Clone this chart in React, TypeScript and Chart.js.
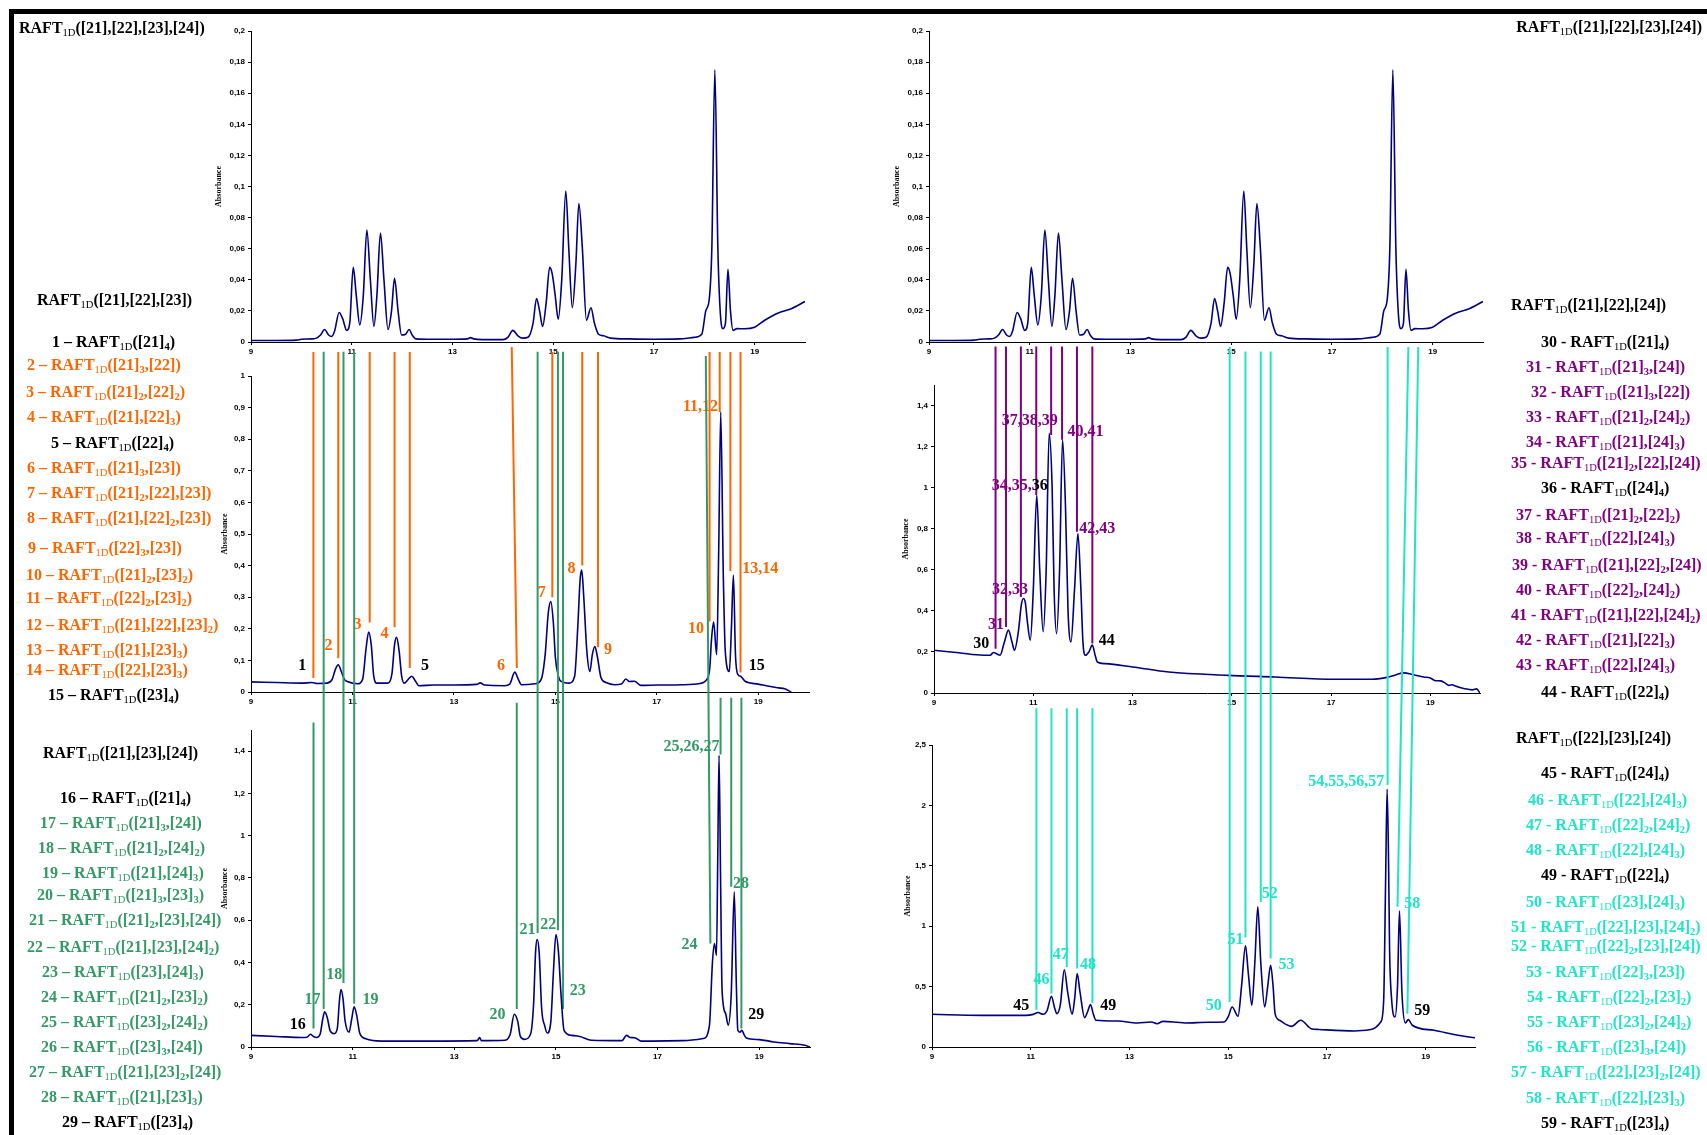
import React, { useEffect, useRef } from "react";
import { Chart, registerables } from "chart.js";

Chart.register(...registerables);

const PAGE_W = 1707;
const PAGE_H = 1135;
const SANS = '"Liberation Sans", Arial, sans-serif';
const SERIF = '"Liberation Serif", "Times New Roman", serif';
const NAVY = "#000080";
const COLORS: Record<string, string> = {
  K: "#000000",
  O: "#FF6600",
  G: "#339966",
  P: "#800080",
  C: "#1FE5C6",
};

// ---------------- axis ticks ----------------
const xTicks = [9, 11, 13, 15, 17, 19];
const topYTicks = [0, 0.02, 0.04, 0.06, 0.08, 0.1, 0.12, 0.14, 0.16, 0.18, 0.2];
const mlYTicks = [0, 0.1, 0.2, 0.3, 0.4, 0.5, 0.6, 0.7, 0.8, 0.9, 1];
const blYTicks = [0, 0.2, 0.4, 0.6, 0.8, 1, 1.2, 1.4];
const mrYTicks = [0, 0.2, 0.4, 0.6, 0.8, 1, 1.2, 1.4];
const brYTicks = [0, 0.5, 1, 1.5, 2, 2.5];

// ---------------- chromatogram: RAFT1D([21],[22],[23],[24]) ----------------
const topTime = [9, 9.5, 9.9, 10.0, 10.2, 10.3, 10.38, 10.46, 10.54, 10.6, 10.66, 10.75, 10.82, 10.9, 10.96, 11.03, 11.09, 11.16, 11.23, 11.3, 11.37, 11.44, 11.5, 11.57, 11.64, 11.72, 11.79, 11.85, 11.92, 11.99, 12.07, 12.14, 12.2, 12.28, 12.5, 13.0, 13.3, 13.36, 13.42, 13.6, 14.0, 14.1, 14.2, 14.3, 14.4, 14.5, 14.6, 14.67, 14.73, 14.79, 14.86, 14.93, 14.98, 15.04, 15.1, 15.17, 15.25, 15.31, 15.38, 15.45, 15.51, 15.58, 15.66, 15.75, 15.82, 15.9, 16.0, 16.14, 16.5, 17.0, 17.5, 17.8, 17.95, 18.03, 18.1, 18.15, 18.21, 18.27, 18.32, 18.37, 18.42, 18.47, 18.52, 18.57, 18.65, 18.8, 19.0, 19.2, 19.47, 19.7, 20.0];
const topAbs = [0.001, 0.001, 0.0012, 0.0018, 0.002, 0.0025, 0.0045, 0.008, 0.0045, 0.0035, 0.007, 0.019, 0.015, 0.0075, 0.012, 0.048, 0.03, 0.011, 0.03, 0.072, 0.04, 0.01, 0.03, 0.07, 0.04, 0.008, 0.02, 0.041, 0.02, 0.0045, 0.005, 0.008, 0.0045, 0.002, 0.0018, 0.0018, 0.002, 0.0028, 0.002, 0.0015, 0.0015, 0.003, 0.0075, 0.004, 0.0025, 0.003, 0.012, 0.028, 0.02, 0.01, 0.025, 0.048, 0.044, 0.03, 0.0146, 0.04, 0.097, 0.06, 0.022, 0.05, 0.089, 0.06, 0.014, 0.022, 0.012, 0.005, 0.004, 0.0025, 0.002, 0.0018, 0.002, 0.003, 0.005, 0.02, 0.028, 0.06, 0.175, 0.06, 0.018, 0.0086, 0.012, 0.0467, 0.02, 0.0075, 0.0086, 0.0085, 0.0095, 0.014, 0.0187, 0.021, 0.026];

// ---------------- chromatogram: RAFT1D([21],[22],[23]) ----------------
const mlTime = [9, 9.5, 10.0, 10.2, 10.3, 10.5, 10.6, 10.66, 10.72, 10.78, 10.84, 10.9, 11.1, 11.2, 11.27, 11.32, 11.37, 11.42, 11.48, 11.7, 11.78, 11.83, 11.87, 11.92, 11.97, 12.02, 12.1, 12.17, 12.24, 12.31, 12.6, 13.0, 13.45, 13.52, 13.6, 14.0, 14.1, 14.2, 14.27, 14.33, 14.6, 14.72, 14.8, 14.86, 14.91, 14.96, 15.0, 15.06, 15.1, 15.27, 15.38, 15.44, 15.49, 15.52, 15.56, 15.62, 15.68, 15.73, 15.78, 15.83, 15.9, 16.0, 16.17, 16.3, 16.39, 16.46, 16.56, 16.68, 17.0, 17.5, 17.85, 17.96, 18.04, 18.08, 18.12, 18.18, 18.22, 18.26, 18.31, 18.35, 18.43, 18.47, 18.51, 18.55, 18.6, 18.65, 18.74, 19.0, 19.21, 19.4, 19.52, 19.65];
const mlAbs = [0.032, 0.03, 0.028, 0.03, 0.027, 0.028, 0.04, 0.07, 0.086, 0.065, 0.04, 0.033, 0.026, 0.04, 0.14, 0.19, 0.15, 0.05, 0.028, 0.028, 0.06, 0.15, 0.173, 0.13, 0.05, 0.028, 0.04, 0.05, 0.035, 0.02, 0.022, 0.022, 0.024, 0.029, 0.022, 0.02, 0.025, 0.063, 0.04, 0.023, 0.026, 0.04, 0.12, 0.25, 0.286, 0.22, 0.11, 0.05, 0.035, 0.028, 0.05, 0.2, 0.36, 0.386, 0.3, 0.13, 0.065, 0.12, 0.144, 0.11, 0.045, 0.03, 0.023, 0.025, 0.041, 0.033, 0.034, 0.021, 0.022, 0.023, 0.027, 0.035, 0.07, 0.17, 0.221, 0.118, 0.45, 0.886, 0.376, 0.128, 0.065, 0.2, 0.37, 0.12, 0.055, 0.05, 0.034, 0.025, 0.018, 0.013, 0.01, 0.0];

// ---------------- chromatogram: RAFT1D([21],[23],[24]) ----------------
const blTime = [9, 9.5, 10.0, 10.1, 10.17, 10.23, 10.29, 10.36, 10.41, 10.45, 10.5, 10.56, 10.64, 10.7, 10.74, 10.77, 10.81, 10.85, 10.93, 10.98, 11.03, 11.08, 11.14, 11.26, 11.57, 12.5, 13.45, 13.5, 13.53, 14.0, 14.1, 14.18, 14.25, 14.3, 14.38, 14.5, 14.56, 14.6, 14.63, 14.67, 14.72, 14.78, 14.83, 14.9, 14.95, 15.0, 15.05, 15.1, 15.16, 15.31, 15.47, 15.7, 16.3, 16.39, 16.46, 16.55, 16.68, 17.5, 17.9, 18.02, 18.08, 18.12, 18.16, 18.185, 18.21, 18.24, 18.27, 18.34, 18.39, 18.45, 18.51, 18.55, 18.58, 18.62, 18.66, 18.7, 18.74, 19.0, 19.29, 19.6, 19.9, 20.0];
const blAbs = [0.055, 0.05, 0.045, 0.046, 0.06, 0.05, 0.045, 0.06, 0.13, 0.166, 0.14, 0.075, 0.063, 0.09, 0.22, 0.272, 0.23, 0.126, 0.07, 0.13, 0.19, 0.15, 0.065, 0.039, 0.028, 0.028, 0.03, 0.045, 0.03, 0.032, 0.06, 0.155, 0.12, 0.05, 0.036, 0.06, 0.2, 0.45, 0.508, 0.45, 0.18, 0.1, 0.066, 0.12, 0.35, 0.532, 0.45, 0.25, 0.079, 0.055, 0.05, 0.032, 0.03, 0.055, 0.045, 0.044, 0.028, 0.03, 0.04, 0.1, 0.4, 0.49, 0.434, 0.9, 1.38, 0.8, 0.268, 0.158, 0.103, 0.25, 0.734, 0.3, 0.079, 0.07, 0.079, 0.06, 0.044, 0.035, 0.024, 0.016, 0.008, 0.0];

// ---------------- chromatogram: RAFT1D([21],[22],[24]) ----------------
const mrTime = [9, 9.5, 10.0, 10.13, 10.2, 10.27, 10.33, 10.42, 10.5, 10.57, 10.62, 10.7, 10.76, 10.8, 10.84, 10.88, 10.94, 11.0, 11.07, 11.13, 11.2, 11.26, 11.32, 11.38, 11.42, 11.47, 11.53, 11.59, 11.65, 11.7, 11.76, 11.83, 11.9, 11.96, 12.0, 12.05, 12.12, 12.19, 12.25, 12.29, 12.45, 13.0, 13.73, 14.92, 15.87, 17.07, 17.82, 18.1, 18.3, 18.46, 18.66, 18.86, 19.0, 19.1, 19.21, 19.3, 19.37, 19.45, 19.49, 19.69, 19.85, 19.89, 19.93, 20.0];
const mrAbs = [0.208, 0.196, 0.184, 0.184, 0.197, 0.19, 0.184, 0.25, 0.306, 0.25, 0.208, 0.3, 0.43, 0.46, 0.44, 0.35, 0.257, 0.5, 0.964, 0.6, 0.298, 0.6, 1.265, 1.0, 0.5, 0.289, 0.6, 1.233, 0.9, 0.4, 0.249, 0.5, 0.777, 0.5, 0.25, 0.184, 0.2, 0.233, 0.18, 0.151, 0.143, 0.127, 0.102, 0.086, 0.078, 0.067, 0.067, 0.075, 0.088, 0.098, 0.089, 0.078, 0.073, 0.06, 0.059, 0.048, 0.037, 0.04, 0.035, 0.021, 0.015, 0.018, 0.02, 0.0];

// ---------------- chromatogram: RAFT1D([22],[23],[24]) ----------------
const brTime = [9, 10.0, 10.9, 11.05, 11.15, 11.25, 11.33, 11.42, 11.48, 11.53, 11.6, 11.68, 11.75, 11.84, 11.89, 11.94, 12.0, 12.09, 12.15, 12.21, 12.27, 12.32, 12.76, 13.16, 13.44, 13.56, 13.68, 13.96, 14.12, 14.6, 14.92, 15.0, 15.08, 15.2, 15.27, 15.35, 15.41, 15.48, 15.54, 15.6, 15.66, 15.74, 15.8, 15.86, 15.91, 15.95, 16.04, 16.28, 16.47, 16.68, 16.84, 17.56, 17.89, 18.09, 18.15, 18.19, 18.22, 18.25, 18.27, 18.31, 18.38, 18.43, 18.47, 18.52, 18.59, 18.65, 18.73, 19.17, 19.65, 20.0];
const brAbs = [0.271, 0.262, 0.262, 0.27, 0.285, 0.271, 0.3, 0.42, 0.33, 0.276, 0.35, 0.64, 0.45, 0.271, 0.4, 0.608, 0.45, 0.243, 0.29, 0.351, 0.27, 0.221, 0.215, 0.199, 0.207, 0.193, 0.212, 0.205, 0.199, 0.205, 0.207, 0.249, 0.331, 0.254, 0.5, 0.837, 0.6, 0.345, 0.7, 1.16, 0.7, 0.331, 0.5, 0.677, 0.5, 0.276, 0.221, 0.171, 0.221, 0.152, 0.145, 0.133, 0.145, 0.207, 0.387, 1.4, 2.135, 1.5, 0.8, 0.4, 0.249, 0.5, 1.127, 0.45, 0.199, 0.227, 0.18, 0.138, 0.097, 0.077];

// ---------------- peak marker lines & labels ----------------
const mlLineTopX = [10.23, 10.72, 11.34, 11.83, 12.13, 14.14, 14.94, 15.53, 15.84, 18.04, 18.24, 18.45, 18.65];
const mlLineBotX = [10.23, 10.72, 11.34, 11.83, 12.13, 14.24, 14.94, 15.53, 15.84, 18.04, 18.24, 18.45, 18.65];
const mlLineTopY = [1.076, 1.076, 1.076, 1.076, 1.076, 1.092, 1.076, 1.076, 1.076, 1.076, 1.076, 1.076, 1.076];
const mlLineBotY = [0.044, 0.107, 0.22, 0.205, 0.076, 0.076, 0.3, 0.4, 0.142, 0.223, 0.886, 0.383, 0.062];
const mlLineColor = ["O", "O", "O", "O", "O", "O", "O", "O", "O", "O", "O", "O", "O"];
const mlLabelText = ["1", "2", "3", "4", "5", "6", "7", "8", "9", "10", "11,12", "13,14", "15"];
const mlLabelX = [10.01, 10.53, 11.1, 11.63, 12.43, 13.93, 14.73, 15.32, 16.04, 17.77, 17.86, 19.04, 18.97];
const mlLabelY = [0.083, 0.146, 0.213, 0.184, 0.083, 0.083, 0.313, 0.39, 0.134, 0.199, 0.902, 0.389, 0.083];
const mlLabelColor = ["K", "O", "O", "O", "K", "O", "O", "O", "O", "O", "O", "O", "K"];

const blLineTopX = [10.23, 10.43, 10.82, 11.03, 14.23, 14.64, 15.04, 15.14, 17.95, 18.24, 18.45, 18.65];
const blLineBotX = [10.23, 10.43, 10.82, 11.03, 14.23, 14.64, 15.04, 15.14, 18.04, 18.24, 18.45, 18.65];
const blLineTopY = [1.536, 3.29, 3.29, 3.29, 1.629, 3.29, 3.29, 3.29, 3.27, 1.653, 1.653, 1.653];
const blLineBotY = [0.087, 0.18, 0.303, 0.205, 0.18, 0.54, 0.553, 0.18, 0.49, 1.384, 0.758, 0.087];
const blLineColor = ["G", "G", "G", "G", "G", "G", "G", "G", "G", "G", "G", "G"];
const blLabelText = ["16", "17", "18", "19", "20", "21", "22", "23", "24", "25,26,27", "28", "29"];
const blLabelX = [9.92, 10.21, 10.64, 11.35, 13.85, 14.44, 14.85, 15.43, 17.63, 17.67, 18.64, 18.94];
const blLabelY = [0.103, 0.221, 0.343, 0.221, 0.15, 0.556, 0.576, 0.265, 0.481, 1.421, 0.773, 0.15];
const blLabelColor = ["K", "G", "G", "G", "G", "G", "G", "G", "G", "G", "G", "K"];

const mrLineTopX = [10.24, 10.45, 10.75, 11.06, 11.36, 11.58, 11.88, 12.19];
const mrLineBotX = [10.24, 10.45, 10.75, 11.06, 11.36, 11.58, 11.88, 12.19];
const mrLineTopY = [1.687, 1.687, 1.687, 1.687, 1.687, 1.687, 1.687, 1.687];
const mrLineBotY = [0.216, 0.322, 0.468, 0.964, 1.257, 1.233, 0.785, 0.241];
const mrLineColor = ["P", "P", "P", "P", "P", "P", "P", "P"];
const mrLabelText = ["30", "31", "32,33", "34,35,|36", "37,38,39", "40,41", "42,43", "44"];
const mrLabelX = [9.95, 10.25, 10.53, 10.73, 10.93, 12.05, 12.29, 12.48];
const mrLabelY = [0.237, 0.333, 0.504, 1.01, 1.325, 1.273, 0.798, 0.254];
const mrLabelColor = ["K", "P", "P", "P|K", "P", "P", "P", "K"];

const brLineTopX = [11.115, 11.42, 11.73, 11.94, 12.25, 15.03, 15.35, 15.66, 15.86, 18.23, 18.65, 18.85];
const brLineBotX = [11.115, 11.42, 11.73, 11.94, 12.25, 15.03, 15.35, 15.66, 15.86, 18.23, 18.43, 18.63];
const brLineTopY = [2.804, 2.804, 2.804, 2.804, 2.804, 5.795, 5.758, 5.758, 5.758, 5.795, 5.795, 5.795];
const brLineBotY = [0.309, 0.442, 0.663, 0.649, 0.365, 0.373, 0.906, 1.2, 0.732, 2.168, 1.16, 0.276];
const brLineColor = ["C", "C", "C", "C", "C", "C", "C", "C", "C", "C", "C", "C"];
const brLabelText = ["45", "46", "47", "48", "49", "50", "51", "52", "53", "54,55,56,57", "58", "59"];
const brLabelX = [10.81, 11.22, 11.61, 12.16, 12.57, 14.71, 15.15, 15.84, 16.18, 17.39, 18.73, 18.93];
const brLabelY = [0.337, 0.552, 0.76, 0.677, 0.337, 0.337, 0.884, 1.271, 0.677, 2.196, 1.188, 0.298];
const brLabelColor = ["K", "C", "C", "C", "K", "C", "C", "C", "C", "C", "C", "K"];

// ---------------- side legends ----------------
const titleAll = "RAFT_1D([21],[22],[23],[24])";
const headA = "RAFT_1D([21],[22],[23])";
const itemsA = ["1 – RAFT_1D([21]_4)", "2 – RAFT_1D([21]_3,[22])", "3 – RAFT_1D([21]_2,[22]_2)", "4 – RAFT_1D([21],[22]_3)", "5 – RAFT_1D([22]_4)", "6 – RAFT_1D([21]_3,[23])", "7 – RAFT_1D([21]_2,[22],[23])", "8 – RAFT_1D([21],[22]_2,[23])", "9 – RAFT_1D([22]_3,[23])", "10 – RAFT_1D([21]_2,[23]_2)", "11 – RAFT_1D([22]_2,[23]_2)", "12 – RAFT_1D([21],[22],[23]_2)", "13 – RAFT_1D([21],[23]_3)", "14 – RAFT_1D([22],[23]_3)", "15 – RAFT_1D([23]_4)"];
const itemsAColor = ["K", "O", "O", "O", "K", "O", "O", "O", "O", "O", "O", "O", "O", "O", "K"];
const headB = "RAFT_1D([21],[23],[24])";
const itemsB = ["16 – RAFT_1D([21]_4)", "17 – RAFT_1D([21]_3,[24])", "18 – RAFT_1D([21]_2,[24]_2)", "19 – RAFT_1D([21],[24]_3)", "20 – RAFT_1D([21]_3,[23]_3)", "21 – RAFT_1D([21]_2,[23],[24])", "22 – RAFT_1D([21],[23],[24]_2)", "23 – RAFT_1D([23],[24]_3)", "24 – RAFT_1D([21]_2,[23]_2)", "25 – RAFT_1D([23]_2,[24]_2)", "26 – RAFT_1D([23]_3,[24])", "27 – RAFT_1D([21],[23]_2,[24])", "28 – RAFT_1D([21],[23]_3)", "29 – RAFT_1D([23]_4)"];
const itemsBColor = ["K", "G", "G", "G", "G", "G", "G", "G", "G", "G", "G", "G", "G", "K"];
const headC = "RAFT_1D([21],[22],[24])";
const itemsC = ["30 - RAFT_1D([21]_4)", "31 - RAFT_1D([21]_3,[24])", "32 - RAFT_1D([21]_3,[22])", "33 - RAFT_1D([21]_2,[24]_2)", "34 - RAFT_1D([21],[24]_3)", "35 - RAFT_1D([21]_2,[22],[24])", "36 - RAFT_1D([24]_4)", "37 - RAFT_1D([21]_2,[22]_2)", "38 - RAFT_1D([22],[24]_3)", "39 - RAFT_1D([21],[22]_2,[24])", "40 - RAFT_1D([22]_2,[24]_2)", "41 - RAFT_1D([21],[22],[24]_2)", "42 - RAFT_1D([21],[22]_3)", "43 - RAFT_1D([22],[24]_3)", "44 - RAFT_1D([22]_4)"];
const itemsCColor = ["K", "P", "P", "P", "P", "P", "K", "P", "P", "P", "P", "P", "P", "P", "K"];
const headD = "RAFT_1D([22],[23],[24])";
const itemsD = ["45 - RAFT_1D([24]_4)", "46 - RAFT_1D([22],[24]_3)", "47 - RAFT_1D([22]_2,[24]_2)", "48 - RAFT_1D([22],[24]_3)", "49 - RAFT_1D([22]_4)", "50 - RAFT_1D([23],[24]_3)", "51 - RAFT_1D([22],[23],[24]_2)", "52 - RAFT_1D([22]_2,[23],[24])", "53 - RAFT_1D([22]_3,[23])", "54 - RAFT_1D([22]_2,[23]_2)", "55 - RAFT_1D([23]_2,[24]_2)", "56 - RAFT_1D([23]_3,[24])", "57 - RAFT_1D([22],[23]_2,[24])", "58 - RAFT_1D([22],[23]_3)", "59 - RAFT_1D([23]_4)"];
const itemsDColor = ["K", "C", "C", "C", "K", "C", "C", "C", "C", "C", "C", "C", "C", "C", "K"];

// layout of the side legends (left edge, vertical centre)
const posAX = [52, 27, 26, 27, 51, 27, 27, 27, 28, 26, 26, 26, 26, 26, 48];
const posAY = [342, 365, 392, 417, 443, 468, 493, 518, 548, 575, 598, 625, 650, 670, 695];
const posBX = [60, 40, 38, 42, 37, 29, 27, 42, 41, 41, 41, 29, 41, 62];
const posBY = [798, 823, 848, 873, 895, 920, 947, 972, 997, 1022, 1047, 1072, 1097, 1122];
const posCX = [1541, 1526, 1531, 1526, 1526, 1511, 1541, 1516, 1516, 1512, 1516, 1511, 1516, 1516, 1541];
const posCY = [342, 367, 392, 417, 442, 463, 488, 515, 538, 565, 590, 615, 640, 665, 692];
const posDX = [1541, 1528, 1526, 1526, 1541, 1526, 1511, 1511, 1526, 1527, 1527, 1527, 1511, 1526, 1541];
const posDY = [773, 800, 825, 850, 875, 902, 927, 946, 972, 997, 1022, 1047, 1072, 1098, 1123];

// ---------------- chart building ----------------
type Area = { left: number; top: number; right: number; bottom: number; yw: number };

type Spec = {
  time: number[];
  abs: number[];
  yMax: number;
  yTicks: number[];
  area: Area;
  lines?: { tx: number[]; bx: number[]; ty: number[]; by: number[]; c: string[] };
  labels?: { t: string[]; x: number[]; y: number[]; c: string[] };
};

const X_AXIS_H = 20;

function makeLabelPlugin(labels?: Spec["labels"]) {
  return {
    id: "peakLabels",
    afterDatasetsDraw(chart: any) {
      if (!labels) return;
      const ctx = chart.ctx as CanvasRenderingContext2D;
      const xs = chart.scales.x;
      const ys = chart.scales.y;
      ctx.save();
      ctx.font = `bold 16px ${SERIF}`;
      ctx.textBaseline = "middle";
      ctx.textAlign = "left";
      labels.t.forEach((txt, i) => {
        const parts = txt.split("|");
        const cols = labels.c[i].split("|");
        const widths = parts.map((p) => ctx.measureText(p).width);
        const total = widths.reduce((a, b) => a + b, 0);
        let x = xs.getPixelForValue(labels.x[i]) - total / 2;
        const y = ys.getPixelForValue(labels.y[i]);
        parts.forEach((p, k) => {
          ctx.fillStyle = COLORS[cols[k] || cols[0]];
          ctx.fillText(p, x, y);
          x += widths[k];
        });
      });
      ctx.restore();
    },
  };
}

function fmt(v: number) {
  return String(v).replace(".", ",");
}

function buildConfig(spec: Spec): any {
  const { area } = spec;
  const datasets: any[] = [
    {
      data: spec.time.map((t, i) => ({ x: t, y: spec.abs[i] })),
      borderColor: NAVY,
      borderWidth: 1.6,
      pointRadius: 0,
      fill: false,
      cubicInterpolationMode: "monotone",
    },
  ];
  if (spec.lines) {
    const L = spec.lines;
    L.tx.forEach((_, i) => {
      datasets.push({
        data: [
          { x: L.tx[i], y: L.ty[i] },
          { x: L.bx[i], y: L.by[i] },
        ],
        borderColor: COLORS[L.c[i]],
        borderWidth: 2,
        pointRadius: 0,
        fill: false,
        tension: 0,
        clip: false,
      });
    });
  }
  const tickFont = { family: SANS, size: 8, weight: "bold" as const };
  const grid = { display: true, drawOnChartArea: false, drawTicks: true, tickLength: 3, color: "#000" };
  const border = { display: true, color: "#000", width: 1 };
  return {
    type: "line",
    data: { datasets },
    plugins: [makeLabelPlugin(spec.labels)],
    options: {
      animation: false,
      responsive: false,
      maintainAspectRatio: false,
      events: [],
      layout: {
        padding: {
          left: area.left - area.yw,
          top: area.top,
          right: PAGE_W - area.right,
          bottom: PAGE_H - area.bottom - X_AXIS_H,
        },
      },
      plugins: { legend: { display: false }, tooltip: { enabled: false }, title: { display: false } },
      scales: {
        x: {
          type: "linear",
          min: 9,
          max: 20,
          afterBuildTicks: (s: any) => {
            s.ticks = xTicks.map((v) => ({ value: v }));
          },
          afterFit: (s: any) => {
            s.height = X_AXIS_H;
          },
          ticks: { color: "#000", font: tickFont, padding: 2, maxRotation: 0, autoSkip: false, callback: (v: any) => String(v) },
          grid,
          border,
        },
        y: {
          type: "linear",
          min: 0,
          max: spec.yMax,
          afterBuildTicks: (s: any) => {
            s.ticks = spec.yTicks.map((v) => ({ value: v }));
          },
          afterFit: (s: any) => {
            s.width = area.yw;
          },
          ticks: { color: "#000", font: tickFont, padding: 3, autoSkip: false, callback: (v: any) => fmt(v) },
          grid,
          border,
          title: { display: true, text: "Absorbance", color: "#000", padding: 0, font: { family: SERIF, size: 8, weight: "bold" } },
        },
      },
    },
  };
}

function ChartLayer({ spec }: { spec: Spec }) {
  const ref = useRef<HTMLCanvasElement | null>(null);
  useEffect(() => {
    if (!ref.current) return;
    const chart = new Chart(ref.current, buildConfig(spec));
    return () => chart.destroy();
  }, []);
  return (
    <canvas
      ref={ref}
      width={PAGE_W}
      height={PAGE_H}
      style={{ position: "absolute", left: 0, top: 0, width: PAGE_W, height: PAGE_H, pointerEvents: "none" }}
    />
  );
}

// ---------------- formula text ----------------
function Formula({ s }: { s: string }) {
  const parts = s.split(/(_[0-9A-Za-z]+)/).filter((p) => p.length > 0);
  return (
    <>
      {parts.map((p, i) => {
        if (p.startsWith("_"))
          return (
            <span
              key={i}
              style={{
                fontSize: "0.66em",
                position: "relative",
                top: "0.32em",
                lineHeight: 0,
                fontWeight: p === "_1D" ? 400 : 700,
              }}
            >
              {p.slice(1)}
            </span>
          );
        return <span key={i}>{p}</span>;
      })}
    </>
  );
}

function TextLine({ s, x, y, color, align }: { s: string; x: number; y: number; color: string; align?: "left" | "right" }) {
  const style: React.CSSProperties = {
    position: "absolute",
    top: y - 10,
    height: 20,
    lineHeight: "20px",
    whiteSpace: "nowrap",
    fontFamily: SERIF,
    fontSize: 16,
    fontWeight: 700,
    color,
  };
  if (align === "right") style.right = PAGE_W - x;
  else style.left = x;
  return (
    <div style={style}>
      <Formula s={s} />
    </div>
  );
}

const specs: Spec[] = [
  { time: topTime, abs: topAbs, yMax: 0.2, yTicks: topYTicks, area: { left: 251, top: 31, right: 805, bottom: 342, yw: 37 } },
  { time: topTime, abs: topAbs, yMax: 0.2, yTicks: topYTicks, area: { left: 929, top: 31, right: 1483, bottom: 342, yw: 37 } },
  {
    time: mlTime, abs: mlAbs, yMax: 1, yTicks: mlYTicks,
    area: { left: 251, top: 376, right: 809, bottom: 692, yw: 31 },
    lines: { tx: mlLineTopX, bx: mlLineBotX, ty: mlLineTopY, by: mlLineBotY, c: mlLineColor },
    labels: { t: mlLabelText, x: mlLabelX, y: mlLabelY, c: mlLabelColor },
  },
  {
    time: mrTime, abs: mrAbs, yMax: 1.5, yTicks: mrYTicks,
    area: { left: 934, top: 385, right: 1480, bottom: 693, yw: 33 },
    lines: { tx: mrLineTopX, bx: mrLineBotX, ty: mrLineTopY, by: mrLineBotY, c: mrLineColor },
    labels: { t: mrLabelText, x: mrLabelX, y: mrLabelY, c: mrLabelColor },
  },
  {
    time: blTime, abs: blAbs, yMax: 1.5, yTicks: blYTicks,
    area: { left: 251, top: 730, right: 810, bottom: 1047, yw: 31 },
    lines: { tx: blLineTopX, bx: blLineBotX, ty: blLineTopY, by: blLineBotY, c: blLineColor },
    labels: { t: blLabelText, x: blLabelX, y: blLabelY, c: blLabelColor },
  },
  {
    time: brTime, abs: brAbs, yMax: 2.5, yTicks: brYTicks,
    area: { left: 932, top: 745, right: 1475, bottom: 1047, yw: 29 },
    lines: { tx: brLineTopX, bx: brLineBotX, ty: brLineTopY, by: brLineBotY, c: brLineColor },
    labels: { t: brLabelText, x: brLabelX, y: brLabelY, c: brLabelColor },
  },
];

export default function App() {
  return (
    <div
      style={{
        position: "absolute",
        left: 0,
        top: 0,
        width: PAGE_W,
        height: PAGE_H,
        overflow: "hidden",
        background: "#fff",
      }}
    >
      {/* frame */}
      <div style={{ position: "absolute", left: 9, top: 9, width: PAGE_W - 9, height: 5, background: "#000" }} />
      <div style={{ position: "absolute", left: 9, top: 9, width: 5, height: PAGE_H - 9, background: "#000" }} />

      {specs.map((s, i) => (
        <ChartLayer key={i} spec={s} />
      ))}

      <TextLine s={titleAll} x={19} y={28} color={COLORS.K} />
      <TextLine s={titleAll} x={1702} y={27} color={COLORS.K} align="right" />

      <TextLine s={headA} x={37} y={300} color={COLORS.K} />
      {itemsA.map((s, i) => (
        <TextLine key={"a" + i} s={s} x={posAX[i]} y={posAY[i]} color={COLORS[itemsAColor[i]]} />
      ))}
      <TextLine s={headB} x={43} y={753} color={COLORS.K} />
      {itemsB.map((s, i) => (
        <TextLine key={"b" + i} s={s} x={posBX[i]} y={posBY[i]} color={COLORS[itemsBColor[i]]} />
      ))}
      <TextLine s={headC} x={1511} y={305} color={COLORS.K} />
      {itemsC.map((s, i) => (
        <TextLine key={"c" + i} s={s} x={posCX[i]} y={posCY[i]} color={COLORS[itemsCColor[i]]} />
      ))}
      <TextLine s={headD} x={1516} y={738} color={COLORS.K} />
      {itemsD.map((s, i) => (
        <TextLine key={"d" + i} s={s} x={posDX[i]} y={posDY[i]} color={COLORS[itemsDColor[i]]} />
      ))}
    </div>
  );
}
